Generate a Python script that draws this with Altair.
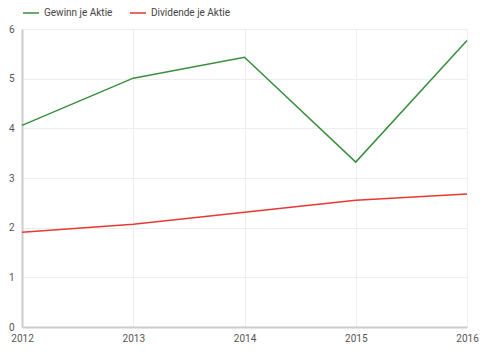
import altair as alt
import pandas as pd

years = [2012, 2013, 2014, 2015, 2016]
gewinn = [4.06, 5.01, 5.43, 3.32, 5.77]
dividende = [1.91, 2.07, 2.31, 2.55, 2.68]
series_names = ["Gewinn je Aktie", "Dividende je Aktie"]
colors = ["#388e3c", "#e53935"]

rows = []
for y, g, d in zip(years, gewinn, dividende):
    rows.append({"Jahr": y, "Wert": g, "Serie": series_names[0]})
    rows.append({"Jahr": y, "Wert": d, "Serie": series_names[1]})
df = pd.DataFrame(rows)

chart = alt.Chart(df).mark_line(strokeWidth=1.5).encode(
    x=alt.X("Jahr:Q", scale=alt.Scale(domain=[2012, 2016], nice=False, zero=False),
            axis=alt.Axis(title=None, format="d", values=years, ticks=False,
                          labelFlush=False,
                          domainColor="#cccccc", domainWidth=2, gridColor="#eeeeee",
                          labelColor="#555555", labelFontSize=10, labelPadding=6,
                          labelFont="Roboto")),
    y=alt.Y("Wert:Q", scale=alt.Scale(domain=[0, 6], nice=False),
            axis=alt.Axis(title=None, values=[0, 1, 2, 3, 4, 5, 6], ticks=False,
                          domainColor="#cccccc", domainWidth=2, gridColor="#eeeeee",
                          labelColor="#555555", labelFontSize=10, labelPadding=8,
                          labelFont="Roboto")),
    color=alt.Color("Serie:N", scale=alt.Scale(domain=series_names, range=colors),
                    legend=alt.Legend(title=None, orient="none", legendX=0, legendY=-25,
                                      direction="horizontal", symbolType="stroke",
                                      symbolSize=256, symbolStrokeWidth=1.5,
                                      labelFontSize=10, labelColor="#444444",
                                      labelFont="Roboto", columnPadding=14)),
).properties(
    width=445, height=298,
    padding={"left": 22, "top": 29, "right": 33, "bottom": 29},
    autosize=alt.AutoSizeParams(type="none"),
).configure_view(stroke=None)

chart.save("out.html", embed_options={"renderer": "svg", "actions": False})
